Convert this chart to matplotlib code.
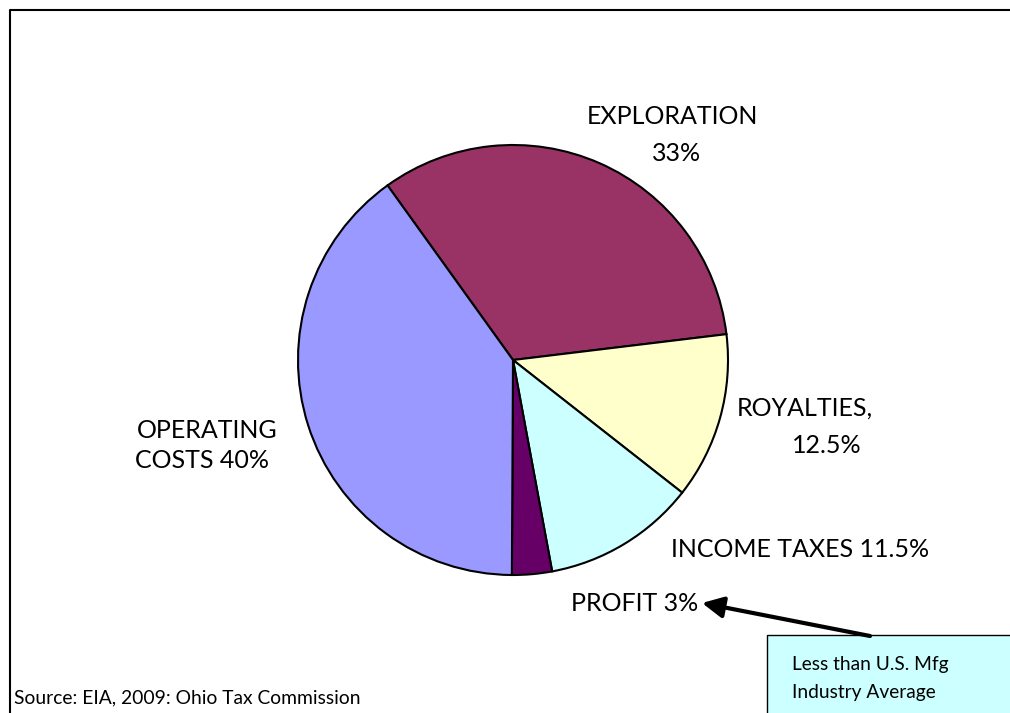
import numpy as np
import matplotlib
matplotlib.use('Agg')
import matplotlib.pyplot as plt
from matplotlib.patches import Rectangle, FancyArrowPatch

# cost breakdown of a barrel, shares in percent
categories = ['EXPLORATION', 'ROYALTIES', 'INCOME TAXES', 'PROFIT', 'OPERATING COSTS']
shares = [33, 12.5, 11.5, 3, 40]
colors = ['#993366', '#FFFFCC', '#CCFFFF', '#660066', '#9999FF']

plt.rcParams['font.family'] = ['Lato', 'DejaVu Sans']

W, H = 1010, 713
fig = plt.figure(figsize=(W / 100, H / 100), dpi=100)
ax = fig.add_axes([0, 0, 1, 1])

def py(y):
    # screen-style y (down from top) to axes y
    return H - y

ax.pie(shares, colors=colors, startangle=125.7, counterclock=False,
       center=(513, py(360)), radius=215,
       wedgeprops=dict(edgecolor='black', linewidth=1.5))
ax.set_xlim(0, W)
ax.set_ylim(0, H)
ax.set_aspect('equal')
ax.axis('off')

# chart area border (left and top edges only visible)
ax.plot([10, 10, W + 5], [-5, py(10), py(10)], color='black', lw=1.5, clip_on=False)

fs = 18
ax.text(672, py(124), 'EXPLORATION', fontsize=fs, ha='center', va='baseline')
ax.text(677, py(161), f'{shares[0]:g}%', fontsize=fs, ha='center', va='baseline')
ax.text(737, py(416), 'ROYALTIES,', fontsize=fs, ha='left', va='baseline')
ax.text(862, py(453), f'{shares[1]:g}%', fontsize=fs, ha='right', va='baseline')
ax.text(929, py(557), f'INCOME TAXES {shares[2]:g}%', fontsize=fs, ha='right', va='baseline')
ax.text(571, py(611), f'PROFIT {shares[3]:g}%', fontsize=fs, ha='left', va='baseline')
ax.text(137, py(438), 'OPERATING', fontsize=fs, ha='left', va='baseline')
ax.text(135, py(468), f'COSTS {shares[4]:g}%', fontsize=fs, ha='left', va='baseline')

ax.text(14, py(703), 'Source: EIA, 2009: Ohio Tax Commission', fontsize=13.9,
        ha='left', va='baseline')

# callout box with arrow pointing at the profit label
ax.add_patch(Rectangle((767, py(720)), 260, 85, facecolor='#CCFFFF',
                       edgecolor='black', lw=1, clip_on=False))
ax.text(792, py(670), 'Less than U.S. Mfg', fontsize=13.8, ha='left', va='baseline')
ax.text(792, py(698), 'Industry Average', fontsize=13.8, ha='left', va='baseline')
ax.add_patch(FancyArrowPatch((870, py(636)), (702, py(603)),
                             arrowstyle='-|>,head_length=8,head_width=4',
                             color='black', lw=3, mutation_scale=1.6,
                             shrinkA=0, shrinkB=0))

fig.savefig('out.png', dpi=100)
